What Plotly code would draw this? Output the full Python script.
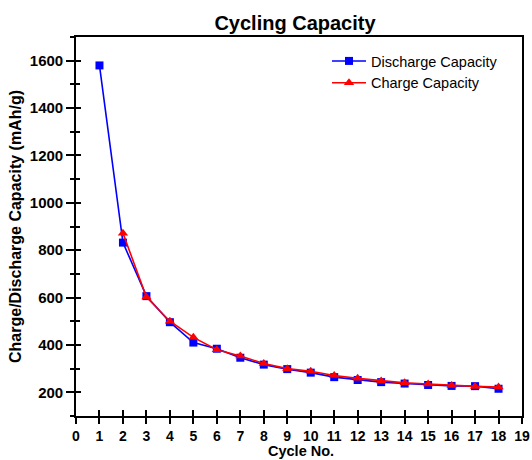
import plotly.graph_objects as go

# Cycle numbers and specific capacities (mAh/g)
cycles = list(range(1, 19))
discharge_capacity = [1580, 832, 606, 496, 410, 384, 346, 317, 298, 283,
                      264, 252, 243, 237, 231, 227, 226, 215]
charge_capacity = [None, 872, 602, 500, 432, 380, 353, 322, 300, 289,
                   271, 259, 248, 240, 235, 229, 225, 222]

x_ticks = list(range(0, 20))
y_ticks = [200, 400, 600, 800, 1000, 1200, 1400, 1600]

FONT = "Liberation Sans, Arial, sans-serif"
X_RANGE = [0, 19]
Y_RANGE = [100, 1700]

# plot-area geometry in pixels
W, H = 532, 460
L, R, T, B = 76, 10, 37, 44
PW, PH = W - L - R, H - T - B

fig = go.Figure()

fig.add_trace(go.Scatter(
    x=cycles, y=discharge_capacity, name="Discharge Capacity",
    mode="lines+markers",
    line=dict(color="#0000ff", width=1.6),
    marker=dict(symbol="square", size=8, color="#0000ff"),
))
fig.add_trace(go.Scatter(
    x=cycles, y=charge_capacity, name="Charge Capacity",
    mode="lines+markers",
    line=dict(color="#ff0000", width=1.6),
    marker=dict(symbol="triangle-up", size=9, color="#ff0000"),
))
# invisible trace that anchors the overlay axes used for the inward tick halves
fig.add_trace(go.Scatter(x=[None], y=[None], xaxis="x2", yaxis="y2",
                         showlegend=False, hoverinfo="skip"))

axis_common = dict(showgrid=False, zeroline=False, automargin=False,
                   tickcolor="black", tickwidth=1.6)

fig.update_layout(
    width=W, height=H,
    margin=dict(l=L, r=R, t=T, b=B),
    paper_bgcolor="white", plot_bgcolor="white",
    title=dict(text="<b>Cycling Capacity</b>", x=295 / W,
               xanchor="center", y=1 - 23 / H, yanchor="middle",
               font=dict(family=FONT, size=20, color="black")),
    font=dict(family=FONT, color="black"),
    xaxis=dict(range=X_RANGE, tickvals=x_ticks, ticks="outside", ticklen=6,
               mirror=True, showline=True, linecolor="black", linewidth=1.6,
               tickfont=dict(family=FONT, size=14, color="black", weight="bold"),
               **axis_common),
    yaxis=dict(range=Y_RANGE, tickvals=y_ticks, ticks="outside", ticklen=8,
               mirror=True, showline=True, linecolor="black", linewidth=1.6,
               minor=dict(dtick=100, tick0=100, ticks="outside", ticklen=4,
                          tickcolor="black", tickwidth=1.6),
               tickfont=dict(family=FONT, size=15, color="black", weight="bold"),
               title=dict(text="<b>Charge/Discharge Capacity (mAh/g)</b>", standoff=4,
                          font=dict(family=FONT, size=16, color="black")),
               **axis_common),
    xaxis2=dict(range=X_RANGE, tickvals=x_ticks, ticks="inside", ticklen=6,
                overlaying="x", showticklabels=False, showline=False,
                **axis_common),
    yaxis2=dict(range=Y_RANGE, tickvals=y_ticks, ticks="inside", ticklen=5,
                overlaying="y", showticklabels=False, showline=False,
                minor=dict(dtick=100, tick0=100, ticks="inside", ticklen=4,
                           tickcolor="black", tickwidth=1.6),
                **axis_common),
    legend=dict(x=(327 - L) / PW, y=1 - (45 - T) / PH, xanchor="left", yanchor="top",
                bgcolor="rgba(0,0,0,0)", borderwidth=0,
                font=dict(family=FONT, size=14.5, color="black"),
                itemwidth=34, tracegroupgap=0),
    showlegend=True,
    annotations=[dict(
        text="<b>Cycle No.</b>", xref="paper", yref="paper",
        x=(300.5 - L) / PW, y=-(451 - (T + PH)) / PH,
        xanchor="center", yanchor="middle", showarrow=False,
        font=dict(family=FONT, size=14.5, color="black"),
    )],
)

fig.write_html("out.html")
